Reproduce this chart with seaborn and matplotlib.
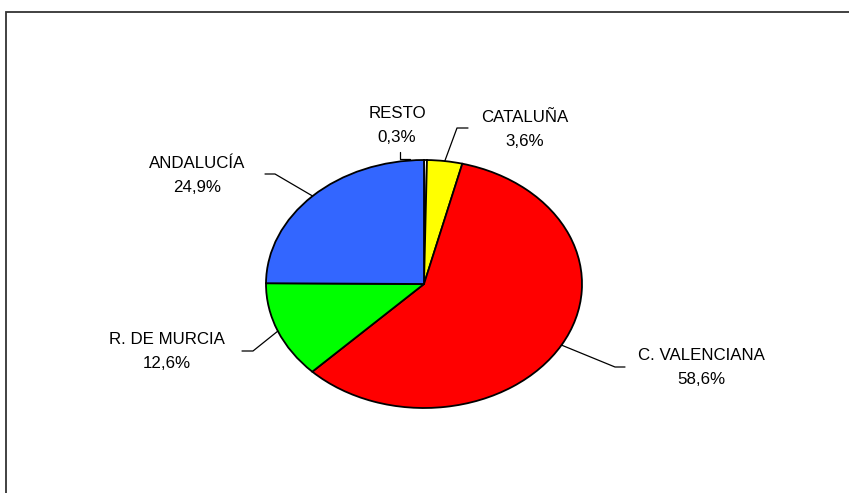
import matplotlib
matplotlib.use("Agg")
import matplotlib.pyplot as plt
import seaborn as sns
import numpy as np
from matplotlib.lines import Line2D
from matplotlib.patches import Rectangle
from matplotlib.transforms import IdentityTransform

# ---- data ----
regions = ["RESTO", "CATALUÑA", "C. VALENCIANA", "R. DE MURCIA", "ANDALUCÍA"]
shares = [0.3, 3.6, 58.6, 12.6, 24.9]
share_labels = ["0,3%", "3,6%", "58,6%", "12,6%", "24,9%"]
slice_colors = ["#FFFFFF", "#FFFF00", "#FF0000", "#00FF00", "#3366FF"]

sns.set_theme(style="white")
plt.rcParams["font.family"] = ["Liberation Sans", "DejaVu Sans"]

W, H = 849, 493
fig = plt.figure(figsize=(W / 100, H / 100), dpi=100)
fig.patch.set_facecolor("white")

# pie area (elliptical pie: axes not square)
left, right, top, bottom = 266, 582, 160, 408
ax = fig.add_axes([left / W, (H - bottom) / H, (right - left) / W, (bottom - top) / H])
wedges, _ = ax.pie(shares, colors=slice_colors, startangle=90, counterclock=False,
                   wedgeprops=dict(edgecolor="black", linewidth=1.3))
ax.set_xlim(-1, 1)
ax.set_ylim(-1, 1)
ax.set_aspect("auto")
ax.axis("off")

# outer frame (top and left edges visible)
fig.add_artist(Rectangle((5.5, -10), W + 20, H - 12 + 10, transform=IdentityTransform(),
                         fill=False, edgecolor="#333333", linewidth=1.3))

# label layout (image pixel coords, y from top)
text_pos = {
    "RESTO": (397, 125),
    "CATALUÑA": (525, 129),
    "C. VALENCIANA": (701, 367),
    "R. DE MURCIA": (167, 352),
    "ANDALUCÍA": (197, 175),
}
leader_pts = {
    "RESTO": [(400, 152), (400, 159)],
    "CATALUÑA": [(468, 128), (457, 128)],
    "C. VALENCIANA": [(625, 367), (615, 367)],
    "R. DE MURCIA": [(242, 351), (253, 351)],
    "ANDALUCÍA": [(265, 174), (275, 174)],
}

for w, name, lab in zip(wedges, regions, share_labels):
    theta = np.deg2rad((w.theta1 + w.theta2) / 2)
    ax_x, ax_y = ax.transData.transform((np.cos(theta), np.sin(theta)))
    pts = leader_pts[name]
    xs = [p[0] for p in pts]
    ys = [H - p[1] for p in pts]
    if name == "RESTO":
        xs.append(410)
        ys.append(H - 159)
    else:
        xs.append(ax_x)
        ys.append(ax_y)
    fig.add_artist(Line2D(xs, ys, color="black", linewidth=0.9, transform=IdentityTransform()))
    tx, ty = text_pos[name]
    fig.text(tx, H - ty, f"{name}\n{lab}", transform=IdentityTransform(),
             ha="center", va="center", multialignment="center",
             fontsize=12.2, color="black", linespacing=1.75)

fig.savefig("out.png", dpi=100)
